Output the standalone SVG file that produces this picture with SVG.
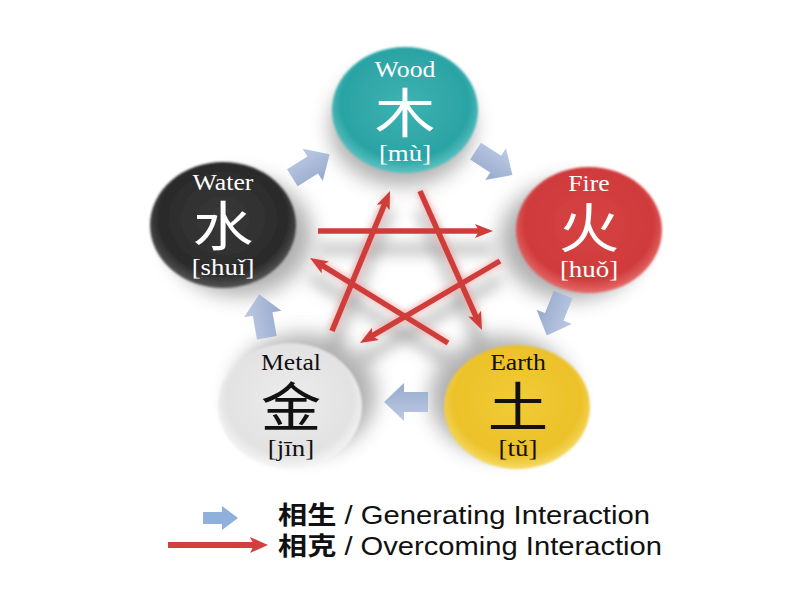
<svg xmlns="http://www.w3.org/2000/svg" width="800" height="600" viewBox="0 0 800 600">
<defs>
<style>
.lbl{font-family:"Liberation Serif","Times New Roman",serif;font-size:23px;text-anchor:middle}
.cjk{font-family:"Noto Sans CJK SC","Noto Sans CJK JP",sans-serif;font-size:54px;text-anchor:middle}
.py{font-family:"Liberation Serif","Times New Roman",serif;font-size:24px;text-anchor:middle}
.w{fill:#ffffff}
.k{fill:#111111}
.gen{fill:url(#genGrad)}
.ko{stroke:#cf3d3b;stroke-width:5.5;fill:none;marker-end:url(#ah)}
.kog{stroke:#f2a8a6;stroke-width:10;fill:none;opacity:0.55;filter:url(#blur3)}
.kosh{stroke:#8a8a8a;stroke-width:12;fill:none;opacity:0.5}
.shadow{fill:#7d7d7d;opacity:0.6;filter:url(#blur10)}
.leg{font-family:"Liberation Sans",Arial,sans-serif;font-size:25px;fill:#111}
.legc{font-family:"Noto Sans CJK SC","Noto Sans CJK JP",sans-serif;font-weight:bold}
</style>
<filter id="blur10" x="-50%" y="-50%" width="200%" height="200%"><feGaussianBlur stdDeviation="10"/></filter>
<filter id="blur6" x="-50%" y="-50%" width="200%" height="200%"><feGaussianBlur stdDeviation="7"/></filter>
<filter id="blur3" x="-50%" y="-50%" width="200%" height="200%"><feGaussianBlur stdDeviation="2.5"/></filter>
<filter id="soft" x="-10%" y="-10%" width="120%" height="120%"><feGaussianBlur stdDeviation="1.2"/></filter>
<radialGradient id="gWood" cx="50%" cy="45%" r="55%"><stop offset="0" stop-color="#3fb2b2"/><stop offset="0.8" stop-color="#2aa3a4"/><stop offset="1" stop-color="#5cc2c2"/></radialGradient>
<radialGradient id="gWater" cx="50%" cy="45%" r="55%"><stop offset="0" stop-color="#3a3a3a"/><stop offset="0.8" stop-color="#2a2a2a"/><stop offset="1" stop-color="#555555"/></radialGradient>
<radialGradient id="gFire" cx="50%" cy="45%" r="55%"><stop offset="0" stop-color="#d64444"/><stop offset="0.8" stop-color="#cf3a3b"/><stop offset="1" stop-color="#e66a6a"/></radialGradient>
<radialGradient id="gMetal" cx="50%" cy="45%" r="55%"><stop offset="0" stop-color="#ececec"/><stop offset="0.8" stop-color="#e2e2e2"/><stop offset="1" stop-color="#f7f7f7"/></radialGradient>
<radialGradient id="gEarth" cx="50%" cy="45%" r="55%"><stop offset="0" stop-color="#f2cb34"/><stop offset="0.8" stop-color="#ecc12a"/><stop offset="1" stop-color="#f6da62"/></radialGradient>
<linearGradient id="genGrad" x1="0" y1="0" x2="0" y2="1"><stop offset="0" stop-color="#bccae4"/><stop offset="1" stop-color="#97aacd"/></linearGradient>
<marker id="ah" viewBox="0 0 18 14" refX="8" refY="7" markerWidth="18" markerHeight="14" markerUnits="userSpaceOnUse" orient="auto">
<path d="M0,0 L18,7 L0,14 L4,7 Z" fill="#cf3d3b"/>
</marker>
<marker id="ahL" viewBox="0 0 18 16" refX="6" refY="8" markerWidth="18" markerHeight="16" markerUnits="userSpaceOnUse" orient="auto">
<path d="M0,0 L18,8 L0,16 L4,8 Z" fill="#d23f3d"/>
</marker>
<path id="blk" d="M-22,-10 L2,-10 L2,-19 L22,0 L2,19 L2,10 L-22,10 Z"/>
</defs>

<rect width="800" height="600" fill="#ffffff"/>

<!-- node shadows -->
<g id="shadows">
<ellipse class="shadow" cx="402" cy="126" rx="72" ry="60"/>
<ellipse class="shadow" cx="240" cy="236" rx="72" ry="60"/>
<ellipse class="shadow" cx="572" cy="240" rx="72" ry="60"/>
<ellipse class="shadow" cx="304" cy="394" rx="72" ry="60"/>
<ellipse class="shadow" cx="502" cy="396" rx="72" ry="60"/>
</g>

<!-- connectors -->
<g id="connectors">
<g id="star-shadow" transform="translate(0,18)" filter="url(#blur6)">
<line class="kosh" x1="318" y1="231" x2="493" y2="231"/>
<line class="kosh" x1="500" y1="261" x2="360" y2="343"/>
<line class="kosh" x1="448" y1="343" x2="310" y2="258"/>
<line class="kosh" x1="332" y1="331" x2="390" y2="191"/>
<line class="kosh" x1="420" y1="191" x2="482" y2="330"/>
</g>
<g id="star-glow">
<line class="kog" x1="318" y1="231" x2="488" y2="231"/>
<line class="kog" x1="500" y1="261" x2="364" y2="340"/>
<line class="kog" x1="448" y1="343" x2="314" y2="260"/>
<line class="kog" x1="332" y1="331" x2="388" y2="196"/>
<line class="kog" x1="420" y1="191" x2="480" y2="325"/>
</g>
<g id="overcoming">
<line class="ko" x1="318" y1="231" x2="483" y2="231"/>
<line class="ko" x1="500" y1="261" x2="368.6" y2="337.9"/>
<line class="ko" x1="448" y1="343" x2="318.5" y2="263.2"/>
<line class="ko" x1="332" y1="331" x2="386.2" y2="200.2"/>
<line class="ko" x1="420" y1="191" x2="477.9" y2="320.9"/>
</g>
<g id="generating">
<use href="#blk" class="gen" transform="translate(311,166) rotate(-32)"/>
<use href="#blk" class="gen" transform="translate(494,163) rotate(33)"/>
<use href="#blk" class="gen" transform="translate(555,315) rotate(112)"/>
<use href="#blk" class="gen" transform="translate(406,402) rotate(180)"/>
<use href="#blk" class="gen" transform="translate(263,316) rotate(-100)"/>
</g>
</g>

<!-- nodes -->
<g id="wood">
<ellipse cx="405" cy="110" rx="73" ry="63" fill="url(#gWood)" filter="url(#soft)"/>
<g transform="translate(405,0) scale(1.12,1)">
<text class="lbl w" x="0" y="77">Wood</text>
<text class="cjk w" x="0" y="133">木</text>
<text class="py w" x="0" y="161">[mù]</text>
</g>
</g>
<g id="water">
<ellipse cx="223" cy="225" rx="73" ry="63" fill="url(#gWater)" filter="url(#soft)"/>
<g transform="translate(223,0) scale(1.12,1)">
<text class="lbl w" x="0" y="190">Water</text>
<text class="cjk w" x="0" y="246">水</text>
<text class="py w" x="0" y="275">[shuǐ]</text>
</g>
</g>
<g id="fire">
<ellipse cx="589" cy="230" rx="73" ry="63" fill="url(#gFire)" filter="url(#soft)"/>
<g transform="translate(589,0) scale(1.12,1)">
<text class="lbl w" x="0" y="191">Fire</text>
<text class="cjk w" x="0" y="248">火</text>
<text class="py w" x="0" y="277">[huǒ]</text>
</g>
</g>
<g id="metal">
<ellipse cx="290" cy="406" rx="72" ry="63" fill="url(#gMetal)" filter="url(#soft)"/>
<g transform="translate(291,0) scale(1.12,1)">
<text class="lbl k" x="0" y="370">Metal</text>
<text class="cjk k" x="0" y="427">金</text>
<text class="py k" x="0" y="456">[jīn]</text>
</g>
</g>
<g id="earth">
<ellipse cx="517" cy="407" rx="73" ry="62" fill="url(#gEarth)" filter="url(#soft)"/>
<g transform="translate(518,0) scale(1.12,1)">
<text class="lbl k" x="0" y="370">Earth</text>
<text class="cjk k" x="0" y="427">土</text>
<text class="py k" x="0" y="456">[tǔ]</text>
</g>
</g>

<!-- legend -->
<g id="legend">
<path d="M203,512 L222,512 L222,506 L238,518 L222,530 L222,524 L203,524 Z" fill="#8fb0da"/>
<line x1="172" y1="561" x2="268" y2="561" stroke="#888" stroke-width="8" opacity="0.55" filter="url(#blur6)"/>
<line x1="168" y1="545" x2="256" y2="545" stroke="#d23f3d" stroke-width="6" marker-end="url(#ahL)"/>
<text class="leg" x="278" y="524" textLength="372" lengthAdjust="spacingAndGlyphs"><tspan class="legc">相生</tspan> / Generating Interaction</text>
<text class="leg" x="278" y="555" textLength="384" lengthAdjust="spacingAndGlyphs"><tspan class="legc">相克</tspan> / Overcoming Interaction</text>
</g>
</svg>
